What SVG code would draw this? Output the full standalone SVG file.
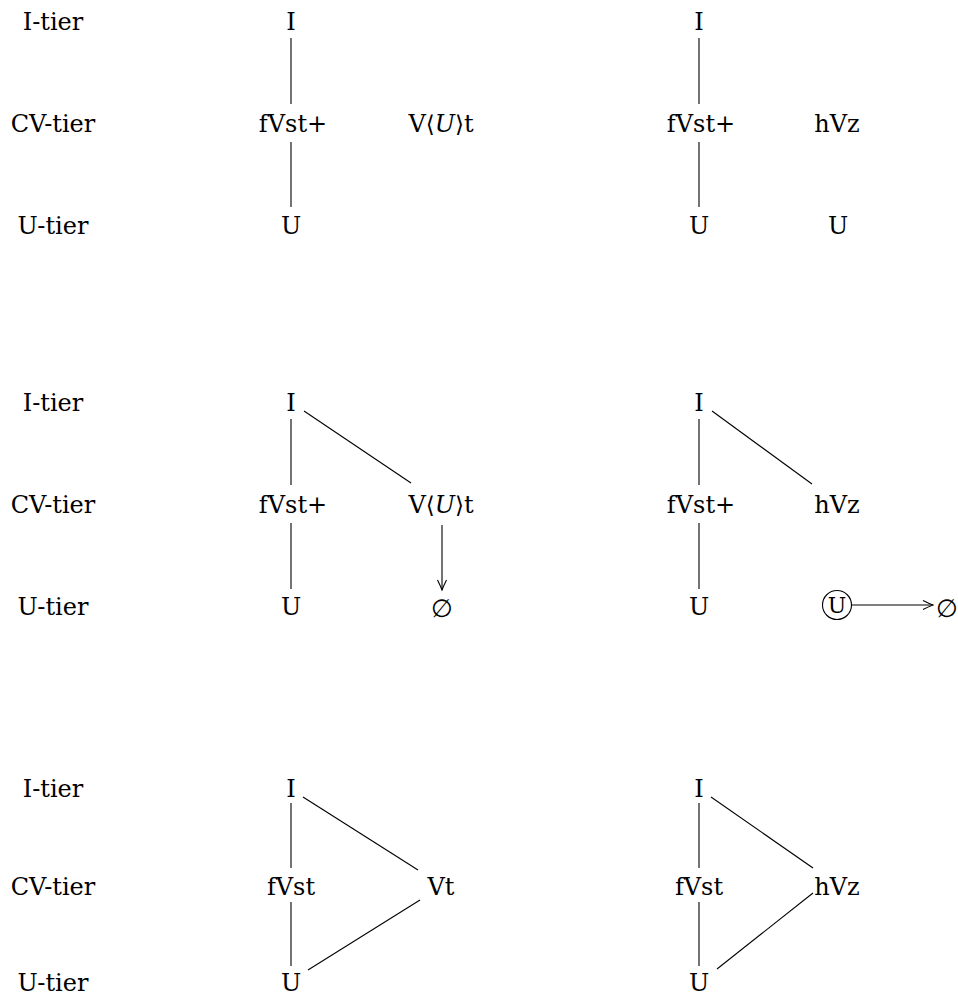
<svg xmlns="http://www.w3.org/2000/svg" width="958" height="997" viewBox="0 0 958 997">
<defs>
<style>
text{font-family:'DejaVu Serif','Liberation Serif',serif;font-size:24px;fill:#000;text-anchor:middle}
.it{font-style:italic}
.sym{font-size:23px}
.es{font-size:25px}
line{stroke:#000;stroke-width:1.1;fill:none}
</style>
<marker id="ah" markerUnits="userSpaceOnUse" markerWidth="14" markerHeight="12" viewBox="-12 -6 14 12" refX="0" refY="0" orient="auto">
<path d="M-10,-4.5 Q-4,-1.5 0,0 Q-4,1.5 -10,4.5" stroke="#000" stroke-width="1.1" fill="none"/>
</marker>
</defs>
<rect width="958" height="997" fill="#fff"/>
<g id="tier-labels">
<text x="53" y="30">I-tier</text>
<text x="53" y="132">CV-tier</text>
<text x="53" y="234">U-tier</text>
<text x="53" y="411">I-tier</text>
<text x="53" y="513">CV-tier</text>
<text x="53" y="615">U-tier</text>
<text x="53" y="797">I-tier</text>
<text x="53" y="895">CV-tier</text>
<text x="53" y="991">U-tier</text>
</g>
<g id="r1-left">
<text x="291" y="30">I</text>
<text x="293" y="132">fVst+</text>
<text x="291" y="234">U</text>
<text x="441" y="132">V<tspan class="sym">⟨</tspan><tspan class="it">U</tspan><tspan class="sym">⟩</tspan>t</text>
</g>
<g id="r1-right">
<text x="699" y="30">I</text>
<text x="701" y="132">fVst+</text>
<text x="699" y="234">U</text>
<text x="837" y="132">hVz</text>
<text x="838" y="234">U</text>
</g>
<g id="r2-left">
<text x="291" y="411">I</text>
<text x="293" y="513">fVst+</text>
<text x="291" y="615">U</text>
<text x="441" y="513">V<tspan class="sym">⟨</tspan><tspan class="it">U</tspan><tspan class="sym">⟩</tspan>t</text>
<text x="442" y="617" class="es">∅</text>
</g>
<g id="r2-right">
<text x="699" y="411">I</text>
<text x="701" y="513">fVst+</text>
<text x="699" y="615">U</text>
<text x="837" y="513">hVz</text>
<circle cx="837" cy="605" r="14.5" fill="none" stroke="#000" stroke-width="1.1"/>
<text x="837" y="613" style="font-size:22px">U</text>
<text x="947" y="617" class="es">∅</text>
</g>
<g id="r3-left">
<text x="291" y="797">I</text>
<text x="291" y="895">fVst</text>
<text x="291" y="991">U</text>
<text x="441" y="895">Vt</text>
</g>
<g id="r3-right">
<text x="699" y="797">I</text>
<text x="699" y="895">fVst</text>
<text x="699" y="991">U</text>
<text x="837" y="895">hVz</text>
</g>
<g id="connectors">
<line x1="291" y1="38" x2="291" y2="104"/>
<line x1="291" y1="142" x2="291" y2="207"/>
<line x1="699" y1="38" x2="699" y2="104"/>
<line x1="699" y1="142" x2="699" y2="207"/>
<line x1="291" y1="419" x2="291" y2="485"/>
<line x1="291" y1="523" x2="291" y2="589"/>
<line x1="304" y1="411" x2="411" y2="483"/>
<line x1="442" y1="525" x2="442" y2="590" marker-end="url(#ah)"/>
<line x1="699" y1="419" x2="699" y2="485"/>
<line x1="699" y1="523" x2="699" y2="589"/>
<line x1="712" y1="411" x2="812" y2="484"/>
<line x1="852" y1="605" x2="933" y2="605" marker-end="url(#ah)"/>
<line x1="291" y1="803" x2="291" y2="868"/>
<line x1="291" y1="902" x2="291" y2="966"/>
<line x1="303" y1="797" x2="418" y2="870"/>
<line x1="420" y1="900" x2="308" y2="970"/>
<line x1="699" y1="803" x2="699" y2="868"/>
<line x1="699" y1="902" x2="699" y2="966"/>
<line x1="711" y1="797" x2="813" y2="868"/>
<line x1="813" y1="893" x2="717" y2="969"/>
</g>
</svg>
